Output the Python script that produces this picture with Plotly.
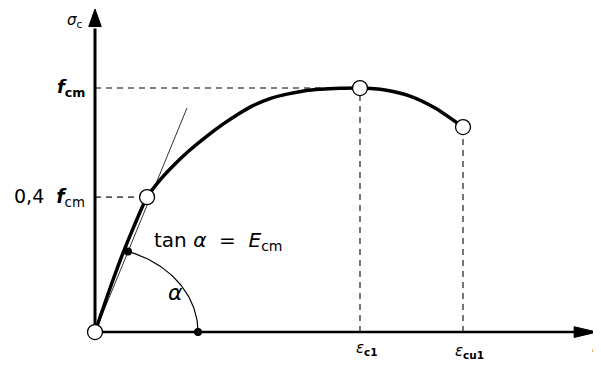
import numpy as np
import plotly.graph_objects as go

# ---- data (strain in per-mille-like units, stress as fraction of f_cm) ----
strain_curve = [0.0, 0.108, 0.216, 0.324, 0.432, 0.539, 0.664, 0.788, 0.929, 1.062,
                1.187, 1.311, 1.452, 1.593, 1.743, 1.867, 2.033, 2.199, 2.407,
                2.614, 2.822, 3.054]
stress_curve = [0.0, 0.156, 0.303, 0.434, 0.553, 0.623, 0.689, 0.746, 0.803, 0.852,
                0.893, 0.928, 0.957, 0.975, 0.989, 0.995, 0.999, 1.0, 0.992,
                0.967, 0.918, 0.840]

eps_c1 = 2.199
eps_cu1 = 3.054
f_cm = 1.0
sig_cu1 = 0.840
eps_04 = 0.432
sig_04 = 0.553

# secant / tangent line (E_cm)
tan_x = [0.0, 0.763]
tan_y = [0.0, 0.918]
# angle marker dots
dot_line = (0.274, 0.330)
dot_axis = (0.855, 0.0)

# axis extents
x_axis_end = 4.166
y_axis_end = 1.324

# page body has an 8px margin -> figure is 593x358 placed at (8,8)
X_RANGE = [-0.722, 4.199]
Y_RANGE = [-0.139, 1.328]

fig = go.Figure()

# dashed guide lines
dash_style = dict(color="#555555", width=1.6, dash="6px,5px")
for xs, ys in [([0, eps_c1], [f_cm, f_cm]),
               ([0, eps_04], [sig_04, sig_04]),
               ([eps_c1, eps_c1], [0, f_cm]),
               ([eps_cu1, eps_cu1], [0, sig_cu1])]:
    fig.add_trace(go.Scatter(x=xs, y=ys, mode="lines", line=dash_style,
                             hoverinfo="skip", showlegend=False))

# axes lines
fig.add_trace(go.Scatter(x=[0, 0], y=[0, y_axis_end - 0.08], mode="lines",
                         line=dict(color="black", width=3), showlegend=False))
fig.add_trace(go.Scatter(x=[0, x_axis_end - 0.18], y=[0, 0], mode="lines",
                         line=dict(color="black", width=2.5), showlegend=False))
# arrowheads
fig.add_trace(go.Scatter(x=[-0.052, 0.052, 0, -0.052],
                         y=[y_axis_end - 0.072, y_axis_end - 0.072, y_axis_end, y_axis_end - 0.072],
                         mode="lines", fill="toself", fillcolor="black",
                         line=dict(color="black", width=1), showlegend=False))
fig.add_trace(go.Scatter(x=[x_axis_end - 0.19, x_axis_end - 0.19, x_axis_end, x_axis_end - 0.19],
                         y=[-0.022, 0.022, 0, -0.022],
                         mode="lines", fill="toself", fillcolor="black",
                         line=dict(color="black", width=1), showlegend=False))

# tangent line
fig.add_trace(go.Scatter(x=tan_x, y=tan_y, mode="lines",
                         line=dict(color="#333333", width=1), showlegend=False))

# angle arc (elliptical, through the two dots, centred at origin)
a = dot_axis[0]
th1 = np.arccos(dot_line[0] / a)
b = dot_line[1] / np.sin(th1)
th = np.linspace(0, th1, 60)
fig.add_trace(go.Scatter(x=a * np.cos(th), y=b * np.sin(th), mode="lines",
                         line=dict(color="black", width=1.2), showlegend=False))

# stress-strain curve
fig.add_trace(go.Scatter(x=strain_curve, y=stress_curve, mode="lines",
                         line=dict(color="black", width=3.5, shape="spline", smoothing=0.7),
                         showlegend=False))

# filled dots
fig.add_trace(go.Scatter(x=[dot_line[0], dot_axis[0]], y=[dot_line[1], dot_axis[1]],
                         mode="markers", marker=dict(color="black", size=8),
                         showlegend=False))
# open circles
fig.add_trace(go.Scatter(x=[0, eps_04, eps_c1, eps_cu1], y=[0, sig_04, f_cm, sig_cu1],
                         mode="markers",
                         marker=dict(color="white", size=15, line=dict(color="black", width=1.3)),
                         showlegend=False))

FONT = "DejaVu Sans, Liberation Sans, Arial, sans-serif"
ann = []
def add_text(x, y, text, size, xanchor="center", yanchor="middle"):
    ann.append(dict(x=x, y=y, xref="x", yref="y", text=text, showarrow=False,
                    font=dict(family=FONT, size=size, color="black"),
                    xanchor=xanchor, yanchor=yanchor))

add_text(-0.085, 1.275, "<i>σ</i><sub>c</sub>", 15, xanchor="right")
add_text(-0.07, 1.0, "<i><b>f</b></i><sub><b>cm</b></sub>", 18, xanchor="right")
add_text(-0.07, sig_04, "0,4  <i><b>f</b></i><sub>cm</sub>", 19, xanchor="right")
add_text(0.475, 0.375, "tan <i>α</i>  =  <i>E</i><sub>cm</sub>", 20, xanchor="left")
add_text(0.664, 0.164, "<i>α</i>", 22)
add_text(2.257, -0.068, "<i>ε</i><sub><b>c1</b></sub>", 15)
add_text(3.104, -0.078, "<i>ε</i><sub><b>cu1</b></sub>", 15)
add_text(4.108, -0.068, "<i>ε</i><sub><b>c</b></sub>", 15, xanchor="left")

fig.update_layout(
    width=593, height=358,
    margin=dict(l=0, r=0, t=0, b=0),
    paper_bgcolor="white", plot_bgcolor="white",
    xaxis=dict(range=X_RANGE, visible=False, fixedrange=True),
    yaxis=dict(range=Y_RANGE, visible=False, fixedrange=True),
    annotations=ann,
    showlegend=False,
)

fig.write_html("out.html")
